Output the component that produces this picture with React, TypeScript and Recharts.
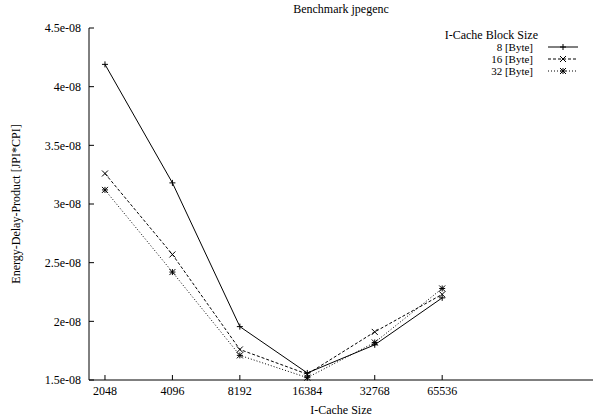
import React from 'react';
import { LineChart, Line, XAxis, YAxis } from 'recharts';

const cacheSizes = [2048, 4096, 8192, 16384, 32768, 65536];
const edp8 = [4.19e-8, 3.18e-8, 1.955e-8, 1.56e-8, 1.8e-8, 2.2e-8];
const edp16 = [3.26e-8, 2.57e-8, 1.76e-8, 1.55e-8, 1.91e-8, 2.23e-8];
const edp32 = [3.12e-8, 2.42e-8, 1.71e-8, 1.52e-8, 1.82e-8, 2.28e-8];
const yTicks = [1.5e-8, 2e-8, 2.5e-8, 3e-8, 3.5e-8, 4e-8, 4.5e-8];

const data = cacheSizes.map((size, i) => ({
  size,
  b8: edp8[i],
  b16: edp16[i],
  b32: edp32[i],
}));

const FONT = '"Liberation Serif", "DejaVu Serif", serif';

const fmtExp = (v: number) => {
  const [m, e] = v.toExponential().split('e');
  const neg = e[0] === '-';
  const digits = e.replace(/[+-]/, '').padStart(2, '0');
  return `${m}e${neg ? '-' : ''}${digits}`;
};

type MarkerKind = 'plus' | 'cross' | 'star';

const Marker = ({ cx, cy, kind }: { cx: number; cy: number; kind: MarkerKind }) => {
  const s = 3;
  const plus = (
    <>
      <line x1={cx - s} y1={cy} x2={cx + s} y2={cy} />
      <line x1={cx} y1={cy - s} x2={cx} y2={cy + s} />
    </>
  );
  const cross = (
    <>
      <line x1={cx - s} y1={cy - s} x2={cx + s} y2={cy + s} />
      <line x1={cx - s} y1={cy + s} x2={cx + s} y2={cy - s} />
    </>
  );
  return (
    <g stroke="#000" strokeWidth={1}>
      {kind === 'plus' && plus}
      {kind === 'cross' && cross}
      {kind === 'star' && (
        <>
          {plus}
          {cross}
        </>
      )}
    </g>
  );
};

const dotFor = (kind: MarkerKind) => (props: any) => {
  const { cx, cy, index } = props;
  if (cx == null || cy == null) return <g key={index} />;
  return <Marker key={index} cx={cx} cy={cy} kind={kind} />;
};

const series = [
  { key: 'b8', name: '8 [Byte]', dash: undefined as string | undefined, kind: 'plus' as MarkerKind },
  { key: 'b16', name: '16 [Byte]', dash: '3 2', kind: 'cross' as MarkerKind },
  { key: 'b32', name: '32 [Byte]', dash: '1 2', kind: 'star' as MarkerKind },
];

const YTick = (props: any) => {
  const { x, y, payload } = props;
  const axisX = x + 8;
  return (
    <g>
      <line x1={axisX} y1={y} x2={axisX + 5} y2={y} stroke="#000" />
      <text x={x} y={y} dy="0.35em" textAnchor="end" fontSize={12} fontFamily={FONT} fill="#000">
        {fmtExp(payload.value)}
      </text>
    </g>
  );
};

const XTick = (props: any) => {
  const { x, y, payload } = props;
  const axisY = y - 6;
  return (
    <g>
      <line x1={x} y1={axisY} x2={x} y2={axisY - 5} stroke="#000" />
      <text x={x} y={y} dy="0.71em" textAnchor="middle" fontSize={12} fontFamily={FONT} fill="#000">
        {payload.value}
      </text>
    </g>
  );
};

const LegendBox = () => (
  <div
    style={{
      position: 'absolute',
      left: 300,
      width: 279,
      top: 29,
      fontFamily: FONT,
      fontSize: 11,
      color: '#000',
      lineHeight: '12px',
    }}
  >
    <div style={{ textAlign: 'right', paddingRight: 41, fontSize: 12 }}>I-Cache Block Size</div>
    {series.map((s) => (
      <div key={s.key} style={{ display: 'flex', justifyContent: 'flex-end', alignItems: 'center', height: 12 }}>
        <span style={{ marginRight: 14 }}>{s.name}</span>
        <svg width={32} height={12} style={{ display: 'block' }}>
          <line x1={1} y1={6} x2={31} y2={6} stroke="#000" strokeDasharray={s.dash} />
          <Marker cx={16} cy={6} kind={s.kind} />
        </svg>
      </div>
    ))}
  </div>
);

export default function App() {
  return (
    <div style={{ position: 'fixed', left: 0, top: 0, width: 597, height: 420, background: '#fff' }}>
      <div
        style={{
          position: 'absolute',
          left: 89,
          width: 504,
          top: 3,
          textAlign: 'center',
          fontFamily: FONT,
          fontSize: 12,
          lineHeight: '12px',
        }}
      >
        Benchmark jpegenc
      </div>
      <LineChart width={597} height={420} data={data} margin={{ top: 28, right: 4, bottom: 0, left: 0 }}>
        <XAxis
          dataKey="size"
          type="number"
          scale="log"
          domain={[1738, 308800]}
          ticks={cacheSizes}
          allowDataOverflow
          height={40}
          tickSize={0}
          tickMargin={6}
          tick={<XTick />}
          axisLine={{ stroke: '#000' }}
          label={{ value: 'I-Cache Size', position: 'insideBottom', offset: 6, fontSize: 12, fontFamily: FONT, fill: '#000' }}
        />
        <XAxis xAxisId="top" orientation="top" dataKey="size" type="number" scale="log" domain={[1738, 308800]} height={0} tick={false} tickLine={false} axisLine={{ stroke: '#000' }} />
        <YAxis
          domain={[1.5e-8, 4.5e-8]}
          ticks={yTicks}
          width={89}
          tickSize={0}
          tickMargin={8}
          tick={<YTick />}
          axisLine={{ stroke: '#000' }}
          label={{ value: 'Energy-Delay-Product [JPI*CPI]', angle: -90, position: 'insideLeft', offset: 16, fontSize: 12, fontFamily: FONT, fill: '#000', style: { textAnchor: 'middle' } }}
        />
        <YAxis yAxisId="right" orientation="right" domain={[1.5e-8, 4.5e-8]} width={0} tick={false} tickLine={false} axisLine={{ stroke: '#000' }} />
        {series.map((s) => (
          <Line
            key={s.key}
            dataKey={s.key}
            name={s.name}
            stroke="#000"
            strokeWidth={1}
            strokeDasharray={s.dash}
            dot={dotFor(s.kind)}
            activeDot={false}
            isAnimationActive={false}
            type="linear"
          />
        ))}
      </LineChart>
      <LegendBox />
    </div>
  );
}
